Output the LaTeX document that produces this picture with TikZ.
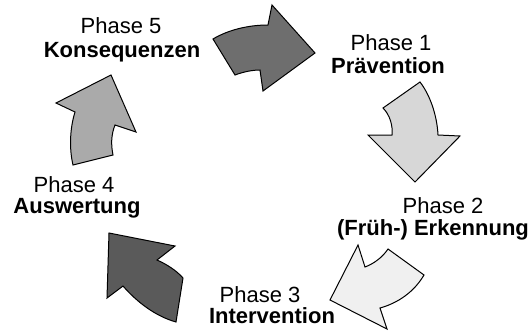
\documentclass[tikz,border=0pt]{standalone}
\usepackage{fontspec}
\setmainfont{Liberation Sans}
\usepackage{tikz}
\usetikzlibrary{positioning}

\definecolor{darkA}{RGB}{110,110,110}
\definecolor{darkB}{RGB}{90,90,90}
\definecolor{midA}{RGB}{170,170,170}
\definecolor{lightA}{RGB}{215,215,215}
\definecolor{lightB}{RGB}{240,240,240}

\begin{document}
\begin{tikzpicture}[x=0.75pt,y=0.75pt,yscale=-1,xscale=1,
    phase/.style={anchor=base,inner sep=0pt,font=\fontsize{16.5}{18}\selectfont},
    phasename/.style={phase,font=\fontsize{16.5}{18}\selectfont\bfseries},
    cyclearrow/.style={draw=black,line width=0.75,line join=miter}]
    \useasboundingbox (0,0) rectangle (531,332);

    % Arrow: Phase 5 -> Phase 1
    \draw [cyclearrow,fill=darkA] (213,39) .. controls (228,30) and (248,25) .. (268,25) -- (272,5) -- (315,53) -- (263,91) -- (260,70) .. controls (252,70) and (243,72) .. (235,75) -- cycle ;
    % Arrow: Phase 1 -> Phase 2
    \draw [cyclearrow,fill=lightA] (420,82) .. controls (430,95) and (437,115) .. (438,135) -- (460,136) -- (415,182) -- (368,135) -- (392,135) .. controls (393,126) and (390,115) .. (383,108) -- cycle ;
    % Arrow: Phase 2 -> Phase 3
    \draw [cyclearrow,fill=lightB] (388,249) -- (424,275) .. controls (414,292) and (398,303) .. (380,308) -- (387,329) -- (330,300) -- (358,245) -- (365,267) .. controls (373,264) and (382,258) .. cycle ;
    % Arrow: Phase 3 -> Phase 4
    \draw [cyclearrow,fill=darkB] (109,233) -- (175,246) -- (157,260) .. controls (166,264) and (176,270) .. (183,278) -- (176,322) .. controls (155,316) and (137,302) .. (123,286) -- (107,298) -- cycle ;
    % Arrow: Phase 4 -> Phase 5
    \draw [cyclearrow,fill=midA] (111,75) -- (136,132) -- (115,125) .. controls (111,135) and (111,145) .. (113,155) -- (73,165) .. controls (69,148) and (70,128) .. (75,112) -- (56,103) -- cycle ;

    % Text Node
    \node [phase] (ph5) at (121,33) {Phase 5};
    \node [phasename] (ph5name) at (122,57) {Konsequenzen};
    % Text Node
    \node [phase] (ph1) at (391,50) {Phase 1};
    \node [phasename] (ph1name) at (388,73) {Prävention};
    % Text Node
    \node [phase] (ph2) at (443,213) {Phase 2};
    \node [phasename] (ph2name) at (433,235) {(Früh-) Erkennung};
    % Text Node
    \node [phase] (ph3) at (260,302) {Phase 3};
    \node [phasename] (ph3name) at (272,323) {Intervention};
    % Text Node
    \node [phase] (ph4) at (74,192) {Phase 4};
    \node [phasename] (ph4name) at (77,213) {Auswertung};

\end{tikzpicture}
\end{document}
